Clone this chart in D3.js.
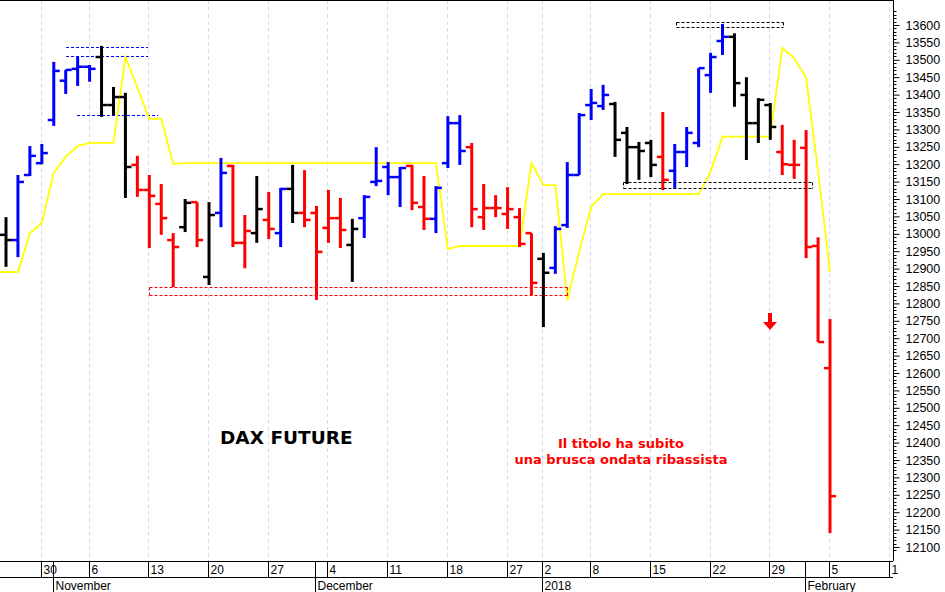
<!DOCTYPE html>
<html><head><meta charset="utf-8">
<script src="https://cdn.jsdelivr.net/npm/d3@7"></script>
<style>body{margin:0;background:#fff}svg{display:block;font-family:"Liberation Sans",Arial,sans-serif}</style>
</head><body><svg id="c" width="945" height="592"></svg>
<script>
const opens =[12997,12982,13169,13203,13327,13440,13474,13480,13508,13370,13393,13198,13126,13086,12982,13019,13091,12876,13060,13195,12974,13002,13040,13002,13129,13060,13060,13017,13045,12968,13045,13149,13192,13163,13195,13077,13043,13203,13318,13249,13048,13074,13057,13048,13002,12928,12902,13025,13169,13370,13367,13373,13290,13249,13261,13221,13181,13235,13261,13456,13554,13566,13399,13318,13370,13235,13198,13247,12965,12614];
const highs =[13048,13169,13252,13258,13494,13471,13508,13485,13540,13422,13405,13224,13169,13143,13002,13100,13091,13091,13218,13198,13054,13166,13120,13132,13198,13183,13080,13126,13103,13043,13111,13249,13206,13192,13198,13166,13137,13338,13341,13261,13143,13111,13134,13074,13002,12945,13022,13206,13347,13416,13428,13379,13307,13264,13270,13350,13258,13307,13476,13520,13603,13576,13450,13390,13376,13313,13270,13298,12990,12755];
const lows  =[12905,12933,13166,13200,13310,13402,13425,13437,13336,13341,13103,13106,12959,12997,12847,13005,12962,12853,13019,12962,12901,12974,12985,12962,13031,13019,12810,12974,12959,12862,12988,13137,13111,13077,13068,13011,13002,13189,13198,13019,13011,13048,13014,12962,12824,12732,12885,13017,13169,13327,13356,13221,13143,13155,13163,13126,13129,13192,13249,13405,13514,13365,13212,13261,13270,13169,13158,12930,12689,12140];
const closes=[12982,13149,13224,13232,13468,13471,13480,13474,13370,13393,13192,13126,13109,13045,12962,13089,12982,13054,13175,12974,13008,13071,13014,13129,13060,13040,12948,13045,13011,13014,13106,13152,13163,13189,13089,13043,13132,13318,13238,13071,13074,13074,13071,12971,12859,12888,13014,13169,13341,13376,13399,13270,13249,13238,13198,13155,13235,13290,13476,13508,13566,13433,13318,13385,13307,13200,13198,12962,12689,12246];
const colors="KBBBBBBBKKKRRRRKRKBRRKRBKRRRRKBBBBRRBBBRRRRRRKBBBBBKKKKRBBBBBKKKKRRRRR";
const stopLine=[12890,12890,13002,13031,13175,13221,13252,13261,13261,13261,13508,13420,13330,13330,13201,13203,13203,13203,13203,13203,13203,13203,13203,13203,13203,13203,13203,13203,13203,13203,13203,13203,13203,13203,13203,13203,13203,12956,12965,12965,12965,12965,12965,12965,13203,13140,13140,12810,12948,13077,13114,13114,13114,13114,13114,13114,13114,13114,13114,13178,13279,13279,13279,13279,13279,13534,13505,13448,13180,12890];
const weekLabels=[["30",3],["6",7],["13",12],["20",17],["27",22],["4",27],["11",32],["18",37],["27",42],["2",45],["8",49],["15",54],["22",59],["29",64],["5",69],["1",74]];
const monthLabels=[["November",4],["December",26],["2018",45],["February",67]];
const colorMap={B:"#0000ff",R:"#ff0000",K:"#000000"};

const svg=d3.select("#c");
const W=893,H=561;
const x=d3.scaleLinear().domain([0,69]).range([6,830]);
const y=d3.scaleLinear().domain([12100,13600]).range([547,25]);
const g=svg.append("g");
g.selectAll(".grid").data(weekLabels).join("line")
 .attr("x1",d=>Math.round(x(d[1]))-.5).attr("x2",d=>Math.round(x(d[1]))-.5).attr("y1",0).attr("y2",H)
 .attr("stroke","#d8d8f0").attr("stroke-dasharray","4,3");
const boxes=[
 {x0:66,x1:148,lines:[13536,13511],c:"#0000ff"},
 {x0:77,x1:158,lines:[13341],c:"#0000ff"}];
boxes.forEach(b=>b.lines.forEach(v=>g.append("line").attr("x1",b.x0).attr("x2",b.x1).attr("y1",Math.round(y(v))+.5).attr("y2",Math.round(y(v))+.5).attr("stroke",b.c).attr("stroke-dasharray","3,2")));
const rects=[{a:12,b:47,hi:12847,lo:12824,c:"rgb(255,0,0)"},{a:56.1,b:65.1,hi:13609,lo:13593,c:"rgb(0,0,0)"},{a:51.7,b:67.5,hi:13149,lo:13132,c:"rgb(0,0,0)"}];
g.append("path").datum(stopLine).attr("d",d3.line().x((d,i)=>x(i)).y(d=>y(d)))
 .attr("fill","none").attr("stroke","#ffff00").attr("stroke-width",1.8);
g.append("line").attr("x1",0).attr("x2",x(1)).attr("y1",y(12890)).attr("y2",y(12890)).attr("stroke","#ffff00").attr("stroke-width",1.8);
const bars=opens.map((o,i)=>({i,o,h:highs[i],l:lows[i],c:closes[i],col:colorMap[colors[i]]}));
const bg=g.selectAll(".bar").data(bars).join("g");
bg.append("line").attr("x1",d=>x(d.i)).attr("x2",d=>x(d.i)).attr("y1",d=>y(d.h)).attr("y2",d=>y(d.l)).attr("stroke",d=>d.col).attr("stroke-width",3);
bg.append("line").attr("x1",d=>x(d.i)-6).attr("x2",d=>x(d.i)).attr("y1",d=>y(d.o)).attr("y2",d=>y(d.o)).attr("stroke",d=>d.col).attr("stroke-width",2.5);
bg.append("line").attr("x1",d=>x(d.i)).attr("x2",d=>x(d.i)+6).attr("y1",d=>y(d.c)).attr("y2",d=>y(d.c)).attr("stroke",d=>d.col).attr("stroke-width",2.5);
const rg=svg.append("g");
rects.forEach(r=>{
 const x0=Math.round(x(r.a))+.5,x1=Math.round(x(r.b))+.5,y0=Math.round(y(r.hi))+.5,y1=Math.round(y(r.lo))+.5;
 [[x0,y0,x1,y0],[x0,y1,x1,y1],[x0,y0,x0,y1],[x1,y0,x1,y1]].forEach(s=>
  rg.append("line").attr("x1",s[0]).attr("y1",s[1]).attr("x2",s[2]).attr("y2",s[3]).attr("stroke",r.c).attr("stroke-width",1).attr("stroke-dasharray","3,2"));
});
svg.append("line").attr("x1",0).attr("x2",W).attr("y1",.5).attr("y2",.5).attr("stroke","#000");
svg.append("line").attr("x1",W+.5).attr("x2",W+.5).attr("y1",0).attr("y2",H).attr("stroke","#000");
svg.append("line").attr("x1",0).attr("x2",W).attr("y1",H+.5).attr("y2",H+.5).attr("stroke","#000");
svg.append("line").attr("x1",0).attr("x2",W).attr("y1",577.5).attr("y2",577.5).attr("stroke","#000");
const ya=svg.append("g").attr("transform",`translate(${W+.5},0)`);
ya.call(d3.axisRight(y).tickValues(d3.range(12100,13601,50)).tickSize(6).tickFormat(d3.format("d")));
ya.select(".domain").remove();
ya.selectAll("text").attr("font-size",12.5).attr("x",12).attr("fill","#000");
d3.range(12090,13650,10).filter(v=>v%50).forEach(v=>{const yy=y(v);if(yy>0&&yy<H)ya.append("line").attr("x2",3).attr("y1",Math.round(yy)+.5).attr("y2",Math.round(yy)+.5).attr("stroke","#000");});
svg.selectAll(".wk").data(weekLabels).join("g").each(function(d){
 const xx=Math.round(x(d[1]))-.5;const s=d3.select(this);
 s.append("line").attr("x1",xx).attr("x2",xx).attr("y1",H).attr("y2",577).attr("stroke","#000");
 s.append("text").attr("x",xx+2).attr("y",574).attr("font-size",12).text(d[0]);
});
svg.selectAll(".mo").data(monthLabels).join("g").each(function(d){
 const xx=Math.round(x(d[1]))-.5;const s=d3.select(this);
 s.append("line").attr("x1",xx).attr("x2",xx).attr("y1",H).attr("y2",592).attr("stroke","#000");
 s.append("text").attr("x",xx+2).attr("y",590).attr("font-size",12).text(d[0]);
});
svg.append("text").attr("x",220).attr("y",444).attr("font-size",18.5).attr("font-weight","bold").attr("font-family","DejaVu Sans, sans-serif").text("DAX FUTURE");
svg.append("text").attr("x",621).attr("y",448).attr("text-anchor","middle").attr("fill","#ff0000").attr("font-size",13).attr("font-weight","bold").attr("font-family","DejaVu Sans, sans-serif").text("Il titolo ha subito");
svg.append("text").attr("x",621).attr("y",464).attr("text-anchor","middle").attr("fill","#ff0000").attr("font-size",13).attr("font-weight","bold").attr("font-family","DejaVu Sans, sans-serif").text("una brusca ondata ribassista");
svg.append("path").attr("d","M768,313 L772,313 L772,322 L777,322 L770,330 L763,322 L768,322 Z").attr("fill","#ff0000");
</script></body></html>
